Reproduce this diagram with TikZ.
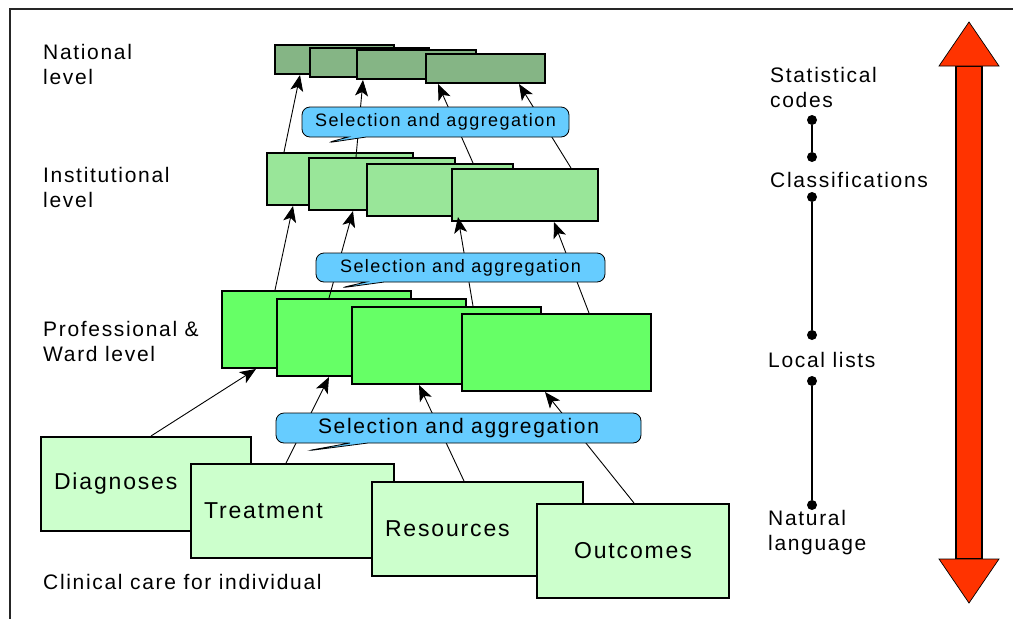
\documentclass[tikz,border=0pt]{standalone}
\usepackage{fontspec}
\setmainfont{Liberation Sans}[LetterSpace=8]
\usepackage{xcolor}
\usetikzlibrary{arrows.meta,shapes.callouts}

\definecolor{natgreen}{HTML}{85B585}
\definecolor{instgreen}{HTML}{99E699}
\definecolor{wardgreen}{HTML}{66FF66}
\definecolor{caregreen}{HTML}{CCFFCC}
\definecolor{bubbleblue}{HTML}{66CCFF}
\definecolor{scalered}{HTML}{FF3300}

\begin{document}
\begin{tikzpicture}[
    x=1pt, y=-1pt,
    card/.style={draw, line width=2pt, anchor=north west, inner sep=0pt, align=left},
    care/.style={card, fill=caregreen, minimum height=94pt, inner xsep=13pt, font=\fontsize{23}{27}\selectfont},
    ward/.style={card, fill=wardgreen, minimum width=189pt, minimum height=77pt},
    inst/.style={card, fill=instgreen, minimum width=146pt, minimum height=52pt},
    natl/.style={card, fill=natgreen, minimum width=119pt, minimum height=29pt},
    bubble/.style={rectangle callout, draw, line width=0.8pt, fill=bubbleblue, rounded corners=8pt,
        minimum height=30pt, inner sep=0pt, callout pointer width=18pt},
    level/.style={anchor=west, align=left, inner sep=0pt, font=\fontsize{21}{25}\selectfont},
    dot/.style={circle, fill, inner sep=0pt, minimum size=10pt},
    arrow/.style={-{Stealth[length=16pt,width=13pt,inset=4pt]}, line width=0.9pt}
]
\useasboundingbox (0,0) rectangle (1013,619);

% Frame
\draw[line width=1.5pt, black!85] (10,630) -- (10,9) -- (1030,9);

% National level
\node[natl] (n1) at (274,44) {};
\node[natl] (n2) at (309,47) {};
\node[natl] (n3) at (356,49) {};
\node[natl] (n4) at (425,53) {};

% Institutional level
\node[inst] (i1) at (266,152) {};
\node[inst] (i2) at (308,157) {};
\node[inst] (i3) at (366,163) {};
\node[inst] (i4) at (451,168) {};

% Professional & ward level
\node[ward] (w1) at (221,290) {};
\node[ward] (w2) at (276,298) {};
\node[ward] (w3) at (351,306) {};
\node[ward] (w4) at (461,313) {};

% Clinical care
\node[care, text width=184pt] (diag) at (40,436) {Diagnoses};
\node[care, text width=177pt] (treat) at (190,463) {Treatment};
\node[care, text width=185pt] (res) at (371,481) {Resources};
\node[care, text width=166pt, align=center] (outc) at (536,503) {Outcomes};

% Care to ward
\draw[arrow] ([xshift=5pt]diag.north) -- ([xshift=-60.5pt]w1.south);
\draw[arrow] ([xshift=-6.5pt]treat.north) -- ([xshift=-42.5pt]w2.south);
\draw[arrow] ([xshift=-13.5pt]res.north) -- ([xshift=-27.5pt]w3.south);
\draw[arrow] ([xshift=1pt]outc.north) -- ([xshift=-11.5pt]w4.south);

% Ward to institution
\draw[arrow] ([xshift=-41.5pt]w1.north) -- ([xshift=-47pt]i1.south);
\draw[arrow] ([xshift=-42.5pt]w2.north) -- ([xshift=-29pt]i2.south);
\draw[arrow] ([xshift=26.5pt]w3.north) -- ([xshift=18pt]i3.south);
\draw[arrow] ([xshift=32.5pt]w4.north) -- ([xshift=29pt]i4.south);

% Institution to nation
\draw[arrow] ([xshift=-56pt]i1.north) -- ([xshift=-34.5pt]n1.south);
\draw[arrow] ([xshift=-26pt]i2.north) -- ([xshift=-53.5pt]n3.south);
\draw[arrow] ([xshift=33pt]i3.north) -- ([xshift=-47.5pt]n4.south);
\draw[arrow] ([xshift=46pt]i4.north) -- ([xshift=33.5pt]n4.south);

% Selection bubbles
\node[bubble, minimum width=267pt, font=\fontsize{18}{20}\selectfont,
    callout absolute pointer={(326,143)}] (sel3) at (435.5,122) {Selection and aggregation};
\node[bubble, minimum width=289pt, minimum height=29pt, font=\fontsize{18}{20}\selectfont,
    callout absolute pointer={(340,288)}] (sel2) at (460.5,267.5) {Selection and aggregation};
\node[bubble, minimum width=365pt, font=\fontsize{21}{24}\selectfont,
    callout absolute pointer={(306,451)}] (sel1) at (458.5,428) {Selection and aggregation};

% Level labels
\node[level] (natlab) at (43,64) {National\\level};
\node[level] (instlab) at (43,187.5) {Institutional\\level};
\node[level] (wardlab) at (43,341) {Professional \&\\Ward level};
\node[level] (carelab) at (43,582) {Clinical care for individual};

% Terminology scale
\node[level] (statlab) at (770,87) {Statistical\\codes};
\node[level] (classlab) at (770,180) {Classifications};
\node[level] (locallab) at (768,360) {Local lists};
\node[level] (natlang) at (768,533) {Natural\\language};

\node[dot] (d1) at (812,120) {};
\node[dot] (d2) at (812,157) {};
\node[dot] (d3) at (812,197) {};
\node[dot] (d4) at (812,335) {};
\node[dot] (d5) at (812,381) {};
\node[dot] (d6) at (812,505) {};
\draw[line width=1.4pt] (d1) -- (d2);
\draw[line width=1.4pt] (d3) -- (d4);
\draw[line width=1.4pt] (d5) -- (d6);

% Double arrow
\filldraw[fill=scalered, line width=2pt] (956,66) rectangle (982,559);
\filldraw[fill=scalered, line width=0.7pt] (969,22) -- (999,66) -- (939,66) -- cycle;
\filldraw[fill=scalered, line width=0.7pt] (969,603) -- (999,559) -- (939,559) -- cycle;

\end{tikzpicture}
\end{document}
